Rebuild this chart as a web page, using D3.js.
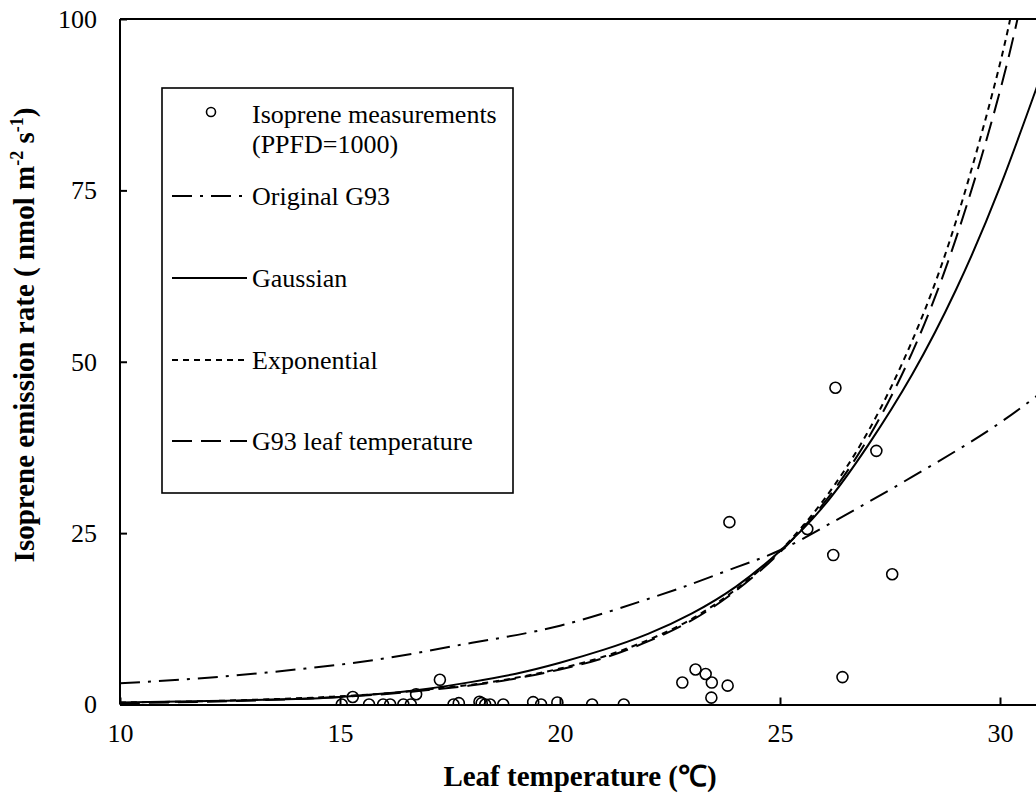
<!DOCTYPE html>
<html lang="en">
<head>
    <meta charset="UTF-8">
    <title>Isoprene emission vs leaf temperature</title>
    <script src="https://d3js.org/d3.v7.min.js"></script>
    <style>
        body { margin: 0; background: #fff; }
        svg { display: block; }
        text { font-family: "Liberation Serif", "Times New Roman", serif; fill: #000; }
    </style>
</head>
<body>
<div id="chart"></div>
<script>
    // measurements (leaf temperature, emission)
    const measTemp = [15.04, 15.29, 15.66, 15.98, 16.14, 16.44, 16.61, 16.73, 17.27, 17.58, 17.70,
        18.17, 18.22, 18.30, 18.41, 18.71, 19.39, 19.57, 19.94, 20.73, 21.45,
        22.78, 23.08, 23.31, 23.45, 23.44, 23.81, 23.85, 25.62, 26.26, 26.21, 26.42, 27.19, 27.55];
    const measRate = [0, 1.1, 0, 0, 0, 0, 0, 1.5, 3.6, 0, 0.2,
        0.4, 0.2, 0, 0, 0, 0.35, 0, 0.3, 0, 0,
        3.2, 5.1, 4.45, 3.2, 1.0, 2.75, 26.6, 25.6, 46.2, 21.8, 4.0, 37.0, 19.0];

    // model curves
    const g93Temp = [10, 12, 14, 16, 18, 20, 22, 23, 24, 25, 26, 27, 28, 29, 30, 31];
    const g93Rate = [3.1, 3.9, 5.1, 6.7, 9.0, 11.5, 15.4, 17.6, 20.0, 22.5, 25.9, 29.5, 33.2, 37.0, 41.1, 45.8];

    const gaussTemp = [10, 12, 14, 15, 16, 17, 18, 19, 20, 21, 22, 23, 24, 25, 26, 27, 28, 29, 30, 31];
    const gaussRate = [0.3, 0.5, 0.8, 1.1, 1.6, 2.3, 3.3, 4.5, 6.1, 8.0, 10.3, 13.3, 17.2, 22.4, 29.0, 37.8, 48.1, 60.5, 75.5, 93.0];

    const expTemp = [10, 12, 14, 15, 16, 17, 18, 19, 20, 21, 22, 23, 24, 25, 26, 27, 28, 29, 30, 30.4];
    const expRate = [0.3, 0.5, 0.9, 1.2, 1.6, 2.2, 2.9, 3.9, 5.25, 7.0, 9.4, 12.5, 16.8, 22.4, 29.9, 39.8, 53.0, 70.5, 93.5, 106];

    const leafTemp = [10, 12, 14, 15, 16, 17, 18, 19, 20, 21, 22, 23, 24, 25, 26, 27, 28, 29, 30, 30.6];
    const leafRate = [0.2, 0.4, 0.8, 1.1, 1.5, 2.1, 2.8, 3.8, 5.1, 6.8, 9.2, 12.3, 16.6, 22.2, 29.4, 38.8, 51.3, 68.0, 89.5, 106];

    const xTicks = [10, 15, 20, 25, 30];
    const yTicks = [0, 25, 50, 75, 100];

    const legendLabels = ["Original G93", "Gaussian", "Exponential", "G93 leaf temperature"];
    const legendDash = ["20,8,3,8", null, "6,5", "20,9"];

    const width = 1036;
    const height = 796;

    const x = d3.scaleLinear().domain([10, 35]).range([120, 1220]);
    const y = d3.scaleLinear().domain([0, 100]).range([704.5, 19]);

    const svg = d3.select("#chart")
        .append("svg")
            .attr("width", width)
            .attr("height", height);

    svg.append("defs").append("clipPath")
        .attr("id", "plot-clip")
        .append("rect")
            .attr("x", x(10))
            .attr("y", y(100))
            .attr("width", x(35) - x(10))
            .attr("height", y(0) - y(100));

    // frame lines: left axis, top border
    svg.append("line")
        .attr("x1", x(10)).attr("x2", x(10))
        .attr("y1", y(100)).attr("y2", y(0))
        .attr("stroke", "#000").attr("stroke-width", 2);
    svg.append("line")
        .attr("x1", x(10)).attr("x2", x(35))
        .attr("y1", y(100)).attr("y2", y(100))
        .attr("stroke", "#000").attr("stroke-width", 2);

    // axes (ticks point inward)
    const xAxis = svg.append("g")
        .attr("transform", `translate(0,${y(0)})`)
        .call(d3.axisBottom(x).tickValues(xTicks).tickSizeInner(-7).tickSizeOuter(0).tickPadding(19));
    const yAxis = svg.append("g")
        .attr("transform", `translate(${x(10)},0)`)
        .call(d3.axisLeft(y).tickValues(yTicks).tickSizeInner(-7).tickSizeOuter(0).tickPadding(23));

    [xAxis, yAxis].forEach(g => {
        g.select(".domain").attr("stroke", "#000").attr("stroke-width", 2);
        g.selectAll(".tick line").attr("stroke", "#000").attr("stroke-width", 2);
        g.selectAll(".tick text")
            .attr("font-size", 26)
            .style("font-family", "'Liberation Serif', 'Times New Roman', serif");
    });
    yAxis.select(".domain").remove();

    // curves
    const plot = svg.append("g").attr("clip-path", "url(#plot-clip)");

    const line = d3.line()
        .x(d => x(d[0]))
        .y(d => y(d[1]))
        .curve(d3.curveNatural);

    const curves = [
        { t: g93Temp, v: g93Rate, dash: legendDash[0] },
        { t: gaussTemp, v: gaussRate, dash: legendDash[1] },
        { t: expTemp, v: expRate, dash: legendDash[2] },
        { t: leafTemp, v: leafRate, dash: legendDash[3] }
    ];

    curves.forEach(c => {
        plot.append("path")
            .datum(c.t.map((t, i) => [t, c.v[i]]))
            .attr("d", line)
            .attr("fill", "none")
            .attr("stroke", "#000")
            .attr("stroke-width", 2)
            .attr("stroke-dasharray", c.dash);
    });

    // measurement circles
    plot.selectAll("circle.meas")
        .data(measTemp.map((t, i) => [t, measRate[i]]))
        .enter().append("circle")
            .attr("class", "meas")
            .attr("cx", d => x(d[0]))
            .attr("cy", d => y(d[1]))
            .attr("r", 5.5)
            .attr("fill", "none")
            .attr("stroke", "#000")
            .attr("stroke-width", 1.6);

    // axis titles
    svg.append("text")
        .attr("x", 580)
        .attr("y", 786)
        .attr("text-anchor", "middle")
        .attr("font-size", 29)
        .attr("font-weight", "bold")
        .text("Leaf temperature (℃)");

    const yTitle = svg.append("text")
        .attr("transform", "translate(34,335) rotate(-90)")
        .attr("text-anchor", "middle")
        .attr("font-size", 29)
        .attr("font-weight", "bold");
    yTitle.append("tspan").text("Isoprene emission rate ( nmol m");
    yTitle.append("tspan").attr("dy", -11).attr("font-size", 18).text("-2");
    yTitle.append("tspan").attr("dy", 11).text(" s");
    yTitle.append("tspan").attr("dy", -11).attr("font-size", 18).text("-1");
    yTitle.append("tspan").attr("dy", 11).text(")");

    // legend
    const legend = svg.append("g");
    legend.append("rect")
        .attr("x", 162).attr("y", 88)
        .attr("width", 351).attr("height", 405)
        .attr("fill", "#fff")
        .attr("stroke", "#000")
        .attr("stroke-width", 1.6);

    legend.append("circle")
        .attr("cx", 211).attr("cy", 112)
        .attr("r", 4.5)
        .attr("fill", "none")
        .attr("stroke", "#000")
        .attr("stroke-width", 1.6);
    legend.append("text")
        .attr("x", 252).attr("y", 123)
        .attr("font-size", 26)
        .text("Isoprene measurements");
    legend.append("text")
        .attr("x", 252).attr("y", 153)
        .attr("font-size", 26)
        .text("(PPFD=1000)");

    const legendY = [196, 278, 360, 441];
    legendLabels.forEach((label, i) => {
        legend.append("line")
            .attr("x1", 172)
            .attr("x2", 247)
            .attr("y1", legendY[i]).attr("y2", legendY[i])
            .attr("stroke", "#000")
            .attr("stroke-width", 2)
            .attr("stroke-dasharray", legendDash[i]);
        legend.append("text")
            .attr("x", 252)
            .attr("y", legendY[i] + 9)
            .attr("font-size", 26)
            .text(label);
    });
</script>
</body>
</html>
